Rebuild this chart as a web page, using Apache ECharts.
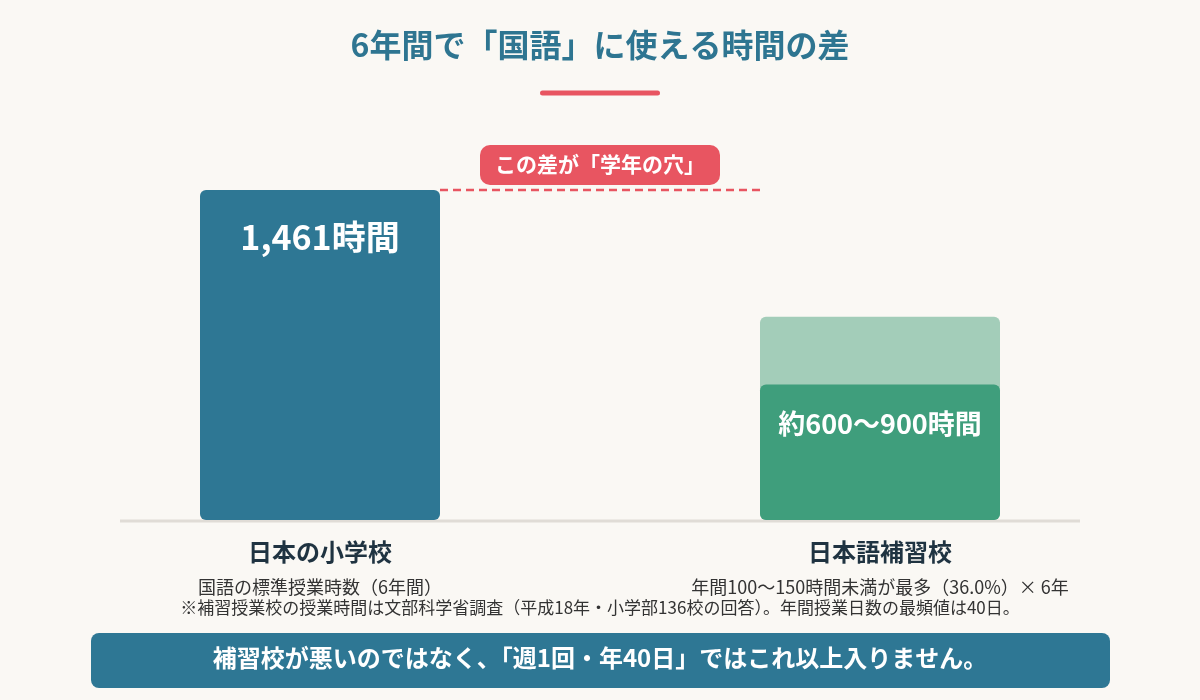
<!DOCTYPE html>
<html>
<head>
<meta charset="utf-8">
<script src="https://cdn.jsdelivr.net/npm/echarts@6/dist/echarts.min.js"></script>
<style>
  html, body { margin: 0; padding: 0; background: #faf8f4; }
  #main { width: 1200px; height: 700px; }
</style>
</head>
<body>
<div id="main"></div>
<script>
var FONT = '"Noto Sans CJK JP", "Noto Sans", sans-serif';

// data
var schools = ['日本の小学校', '日本語補習校'];
var schoolNotes = ['国語の標準授業時数（6年間）', '年間100〜150時間未満が最多（36.0%）× 6年'];
var elementaryHours = [1461, null];
var hoshuLow = [null, 600];
var hoshuHigh = [null, 900];
var barLabels = ['1,461時間', '約600〜900時間'];

var chart = echarts.init(document.getElementById('main'));

var option = {
  backgroundColor: '#faf8f4',
  textStyle: { fontFamily: FONT },
  grid: { left: 40, right: 40, top: 158.6, bottom: 180 },
  xAxis: {
    type: 'category',
    data: schools,
    axisLine: { show: false },
    axisTick: { show: false },
    axisLabel: {
      margin: 17,
      interval: 0,
      formatter: function (v, i) {
        return '{name|' + v + '}\n{sub|' + schoolNotes[i] + '}';
      },
      rich: {
        name: { fontSize: 24, fontWeight: 'bold', color: '#1f3341', lineHeight: 30, fontFamily: FONT },
        sub: { fontSize: 18, color: '#333', lineHeight: 40, fontFamily: FONT }
      }
    }
  },
  yAxis: {
    type: 'value',
    min: 0,
    max: 1600,
    show: false,
    splitLine: { show: false }
  },
  series: [
    {
      type: 'bar',
      data: elementaryHours,
      barWidth: 240,
      barGap: '-100%',
      itemStyle: { color: '#2e7794', borderRadius: 6 },
      label: {
        show: true,
        position: 'insideTop',
        distance: 30,
        formatter: function () { return barLabels[0]; },
        color: '#fff',
        fontSize: 34,
        fontWeight: 'bold',
        fontFamily: FONT
      }
    },
    {
      type: 'bar',
      data: hoshuHigh,
      barWidth: 240,
      barGap: '-100%',
      itemStyle: { color: '#a3cdb9', borderRadius: 6 }
    },
    {
      type: 'bar',
      data: hoshuLow,
      barWidth: 240,
      barGap: '-100%',
      itemStyle: { color: '#3f9e7c', borderRadius: 6 },
      label: {
        show: true,
        position: 'insideTop',
        distance: 26,
        formatter: function () { return barLabels[1]; },
        color: '#fff',
        fontSize: 27,
        fontWeight: 'bold',
        fontFamily: FONT
      }
    }
  ]
};
chart.setOption(option);

// decorations placed from the axes
var leftTop = chart.convertToPixel({ seriesIndex: 0 }, [0, elementaryHours[0]]);
var rightTop = chart.convertToPixel({ seriesIndex: 1 }, [1, elementaryHours[0]]);
var base = chart.convertToPixel({ seriesIndex: 0 }, [0, 0]);
var gapX1 = leftTop[0] + 120, gapX2 = rightTop[0] - 120;
var midX = (gapX1 + gapX2) / 2;

chart.setOption({
  graphic: [
    {
      type: 'text', x: 600, y: 45,
      style: { text: '6年間で「国語」に使える時間の差', fontSize: 32, fontWeight: 'bold', fill: '#2e7591', align: 'center', verticalAlign: 'middle', fontFamily: FONT }
    },
    {
      type: 'rect', shape: { x: 540, y: 90.5, width: 120, height: 5, r: 2.5 },
      style: { fill: '#e85561' }
    },
    {
      type: 'line', shape: { x1: 120, y1: base[1] + 1, x2: 1080, y2: base[1] + 1 },
      style: { stroke: '#e0dcd6', lineWidth: 3 }
    },
    {
      type: 'line', shape: { x1: gapX1, y1: leftTop[1], x2: gapX2, y2: leftTop[1] },
      style: { stroke: '#e85561', lineWidth: 2.5, lineDash: [8, 5] }
    },
    {
      type: 'rect', shape: { x: midX - 120, y: 145, width: 240, height: 40, r: 10 },
      style: { fill: '#e85561' }
    },
    {
      type: 'text', x: midX, y: 164,
      style: { text: 'この差が「学年の穴」', fontSize: 21, fontWeight: 'bold', fill: '#fff', align: 'center', verticalAlign: 'middle', fontFamily: FONT }
    },
    {
      type: 'text', x: 600, y: 608,
      style: { text: '※補習授業校の授業時間は文部科学省調査（平成18年・小学部136校の回答）。年間授業日数の最頻値は40日。', fontSize: 17, fill: '#333', align: 'center', verticalAlign: 'middle', fontFamily: FONT }
    },
    {
      type: 'rect', shape: { x: 91, y: 633, width: 1019, height: 55, r: 8 },
      style: { fill: '#2e7794' }
    },
    {
      type: 'text', x: 600, y: 658,
      style: { text: '補習校が悪いのではなく、「週1回・年40日」ではこれ以上入りません。', fontSize: 24, fontWeight: 'bold', fill: '#fff', align: 'center', verticalAlign: 'middle', fontFamily: FONT }
    }
  ]
});
</script>
</body>
</html>
